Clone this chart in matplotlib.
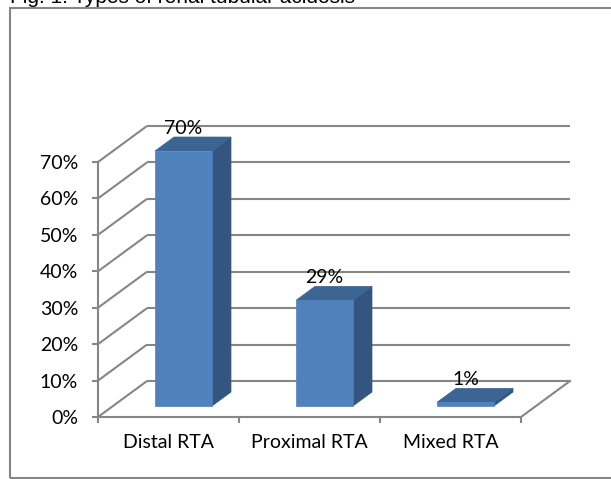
import matplotlib
matplotlib.use("Agg")
import matplotlib.pyplot as plt
from matplotlib.patches import Polygon, Rectangle
from matplotlib.ticker import FixedLocator, NullFormatter

# ---- data ----
categories = ["Distal RTA", "Proximal RTA", "Mixed RTA"]
values = [70, 29, 1]
value_labels = ["70%", "29%", "1%"]
y_ticks = [0, 10, 20, 30, 40, 50, 60, 70]
y_tick_labels = ["0%", "10%", "20%", "30%", "40%", "50%", "60%", "70%"]
title = "Fig. 1: Types of renal tubular acidosis"

# ---- style ----
W, H = 611, 479
GRID = "#868686"
FRONT = "#4F81BD"
TOP = "#3D6594"
SIDE = "#34557F"
FONT = ["Lato", "DejaVu Sans"]
DX = 49 / 141.0      # depth offset in category units
DY = 36 / 3.643      # depth offset in percent units
F0, F1 = 0.306, 0.694  # bar depth span (fraction of wall depth)
BW = 0.404           # bar width (category units)

fig = plt.figure(figsize=(W / 100, H / 100), dpi=100)
ax = fig.add_axes([98 / W, (H - 417) / H, 423 / W, 255 / H])
ax.set_xlim(0, 3)
ax.set_ylim(0, 70)
ax.patch.set_alpha(0)

# frame
fig.patches.append(Rectangle((10 / W, 1 / H), 2, (478 - 8) / H, transform=fig.transFigure,
                             fill=False, edgecolor=GRID, linewidth=1.5))
fig.text(10 / W, 1 - 3 / H, title, fontsize=15, family=["Liberation Sans", "DejaVu Sans"],
         va="baseline", ha="left", color="black")

# walls / gridlines
n = len(categories)
for v in y_ticks:
    ax.plot([0, DX], [v, v + DY], color=GRID, lw=1.5, clip_on=False, zorder=1,
            solid_capstyle="butt")
    ax.plot([DX, n + DX], [v + DY, v + DY], color=GRID, lw=1.5, clip_on=False, zorder=1,
            solid_capstyle="butt")
ax.plot([n, n + DX], [0, DY], color=GRID, lw=1.5, clip_on=False, zorder=1)

# bars
for i, (v, lab) in enumerate(zip(values, value_labels)):
    x0 = i + 0.5 - BW / 2 + F0 * DX
    x1 = x0 + BW
    b0 = F0 * DY
    ddx = (F1 - F0) * DX
    ddy = (F1 - F0) * DY
    side = Polygon([(x1, b0), (x1, v + b0), (x1 + ddx, v + b0 + ddy), (x1 + ddx, b0 + ddy)],
                   closed=True, facecolor=SIDE, edgecolor=SIDE, lw=0.5, zorder=3, clip_on=False)
    top = Polygon([(x0, v + b0), (x1, v + b0), (x1 + ddx, v + b0 + ddy), (x0 + ddx, v + b0 + ddy)],
                  closed=True, facecolor=TOP, edgecolor=TOP, lw=0.5, zorder=3, clip_on=False)
    front = Polygon([(x0, b0), (x1, b0), (x1, v + b0), (x0, v + b0)],
                    closed=True, facecolor=FRONT, edgecolor=FRONT, lw=0.5, zorder=4, clip_on=False)
    ax.add_patch(side)
    ax.add_patch(top)
    ax.add_patch(front)
    ax.text((x0 + x1) / 2, v + b0 + ddy + 0.8, lab, ha="center", va="baseline",
            fontsize=14, family=FONT, color="black", zorder=6, clip_on=False)

# spines and ticks
for s in ["top", "right"]:
    ax.spines[s].set_visible(False)
for s in ["left", "bottom"]:
    ax.spines[s].set_color(GRID)
    ax.spines[s].set_linewidth(1.5)
    ax.spines[s].set_zorder(2)

ax.set_yticks(y_ticks)
ax.set_yticklabels(y_tick_labels, fontsize=14, family=FONT)
ax.tick_params(axis="y", direction="out", length=4.3, width=1.5, color=GRID, pad=10)

ax.xaxis.set_major_locator(FixedLocator(list(range(n + 1))))
ax.xaxis.set_major_formatter(NullFormatter())
ax.xaxis.set_minor_locator(FixedLocator([i + 0.5 for i in range(n)]))
ax.set_xticklabels(categories, minor=True, fontsize=14, family=FONT)
ax.tick_params(axis="x", which="major", direction="out", length=4.3, width=1.5, color=GRID)
ax.tick_params(axis="x", which="minor", length=0, pad=12)

fig.savefig("out.png", dpi=100)
